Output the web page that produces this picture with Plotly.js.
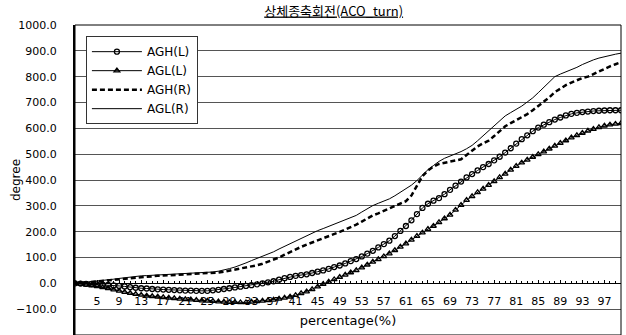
<!DOCTYPE html>
<html>
<head>
<meta charset="utf-8">
<script src="https://cdn.plot.ly/plotly-3.0.1.min.js"></script>
<style>html,body{margin:0;padding:0;background:#fff;}#chart{width:626px;height:335px;}</style>
</head>
<body>
<div id="chart"></div>
<script>
// category axis: percentage 1..100
const percentage = Array.from({length: 100}, (_, k) => k + 1);
const xTickLabels = [5,9,13,17,21,25,29,33,37,41,45,49,53,57,61,65,69,73,77,81,85,89,93,97];

const AGH_L = [0,-1,-2,-3,-4,-5,-6,-8,-10,-12,-15,-17,-19,-20,-22,-23,-24,-25,-26,-27,
  -28,-28,-29,-29,-29,-27,-25,-22,-19,-16,-13,-10,-7,-4,0,4,8,14,20,25,
  29,32,35,40,45,50,56,63,69,77,86,94,104,115,126,139,152,165,183,203,
  222,244,268,292,308,320,330,345,362,378,394,410,423,437,450,462,476,490,506,523,
  541,558,573,589,603,614,624,634,642,650,656,660,663,665,667,668,669,670,670,670];

const AGL_L = [0,-3,-6,-9,-12,-16,-19,-24,-29,-34,-38,-42,-45,-48,-50,-52,-54,-56,-58,-60,
  -62,-63,-65,-67,-68,-69,-71,-72,-73,-73,-74,-74,-72,-70,-68,-66,-64,-60,-56,-52,
  -46,-39,-32,-23,-13,-3,6,15,24,33,42,50,61,72,83,93,104,115,128,141,
  154,168,183,196,210,222,236,251,265,284,303,322,337,352,366,380,395,410,424,439,
  454,467,478,489,499,510,521,532,543,553,564,573,582,590,597,604,610,614,617,619];

const AGH_R = [0,2,4,6,8,10,12,15,18,20,22,24,26,27,28,29,30,31,32,33,
  34,35,36,37,38,40,42,45,49,53,58,62,66,70,76,83,90,100,111,122,
  131,141,150,158,165,173,182,190,199,208,217,227,239,251,263,271,280,288,297,306,
  318,340,380,415,437,452,462,467,470,474,480,497,515,530,542,552,570,590,608,620,
  631,642,655,670,686,703,720,740,755,767,777,787,795,800,810,822,832,840,848,856];

const AGL_R = [0,2,4,6,8,11,13,16,19,22,24,27,29,30,31,32,33,34,35,36,
  37,38,39,40,42,44,47,51,57,63,70,79,88,96,105,113,122,133,143,154,
  165,176,186,195,204,212,220,229,237,246,254,263,276,289,301,310,318,327,339,352,
  365,380,398,420,440,456,472,484,492,500,510,521,534,552,572,591,610,630,648,661,
  673,686,702,718,738,760,782,800,810,818,826,836,847,857,865,872,878,883,887,891];

const seriesNames = ['AGH(L)', 'AGL(L)', 'AGH(R)', 'AGL(R)'];
const chartTitle = '상체종축회전(ACO_turn)';
const xTitle = 'percentage(%)';
const yTitle = 'degree';

const yMin = -200, yMax = 1000;

const traces = [
  {x: percentage, y: AGH_L, name: seriesNames[0], type: 'scatter', mode: 'lines+markers',
   line: {color: '#000', width: 1},
   marker: {symbol: 'circle-open', size: 5, color: '#000', line: {width: 1.3, color: '#000'}}},
  {x: percentage, y: AGL_L, name: seriesNames[1], type: 'scatter', mode: 'lines+markers',
   line: {color: '#000', width: 1},
   marker: {symbol: 'triangle-up-open', size: 5, color: '#000', line: {width: 1.3, color: '#000'}}},
  {x: percentage, y: AGH_R, name: seriesNames[2], type: 'scatter', mode: 'lines',
   line: {color: '#000', width: 2.5, dash: '5px,3px'}},
  {x: percentage, y: AGL_R, name: seriesNames[3], type: 'scatter', mode: 'lines',
   line: {color: '#000', width: 1}}
];

const baseFont = {family: 'DejaVu Sans, Arial, sans-serif', size: 11, color: '#000'};

const layout = {
  width: 626, height: 335,
  margin: {l: 75, r: 5, t: 25, b: 0, pad: 0},
  paper_bgcolor: '#fff', plot_bgcolor: '#fff',
  font: baseFont,
  showlegend: true,
  title: {
    text: chartTitle,
    font: {family: 'Noto Sans CJK KR, DejaVu Sans, sans-serif', size: 13, color: '#000', lineposition: 'under'},
    xref: 'container', x: 0.533, xanchor: 'center',
    yref: 'container', y: 1 - 11 / 335, yanchor: 'middle'
  },
  xaxis: {
    range: [1, 100],
    anchor: 'free',
    position: (0 - yMin) / (yMax - yMin),
    tickmode: 'array', tickvals: xTickLabels, ticktext: xTickLabels.map(String),
    ticks: 'inside', ticklen: 3, tickcolor: '#000', tickwidth: 1,
    minor: {dtick: 1, tick0: 1, ticks: 'inside', ticklen: 2, tickcolor: '#000', showgrid: false},
    ticklabelstandoff: 7,
    showline: true, linecolor: '#000', linewidth: 1,
    showgrid: false, zeroline: false,
    tickfont: {family: 'DejaVu Sans, Arial, sans-serif', size: 11, color: '#000'},
    title: {text: xTitle, font: {family: 'DejaVu Sans, Arial, sans-serif', size: 13, color: '#000'}, standoff: 9},
    fixedrange: true
  },
  yaxis: {
    range: [yMin, yMax],
    dtick: 100, tick0: 0,
    tickformat: '.1f',
    ticks: '', ticklabelstandoff: 14,
    showline: true, linecolor: '#000', linewidth: 2,
    showgrid: true, gridcolor: '#555', gridwidth: 1,
    zeroline: true, zerolinecolor: '#000', zerolinewidth: 1,
    tickfont: {family: 'DejaVu Sans, Arial, sans-serif', size: 11, color: '#000'},
    title: {text: yTitle, font: {family: 'DejaVu Sans, Arial, sans-serif', size: 12, color: '#000'}},
    fixedrange: true
  },
  legend: {
    x: 0.02, y: 0.964, xanchor: 'left', yanchor: 'top',
    bgcolor: '#fff', bordercolor: '#333', borderwidth: 1,
    font: {family: 'DejaVu Sans, Arial, sans-serif', size: 12, color: '#000'},
    tracegroupgap: 0, itemwidth: 50, entrywidth: 100
  },
  shapes: [
    {type: 'rect', xref: 'paper', yref: 'paper', x0: 0, x1: 1, y0: 0, y1: 1,
     line: {color: '#000', width: 1}, fillcolor: 'rgba(0,0,0,0)', layer: 'above'}
  ]
};

Plotly.newPlot('chart', traces, layout, {staticPlot: true, displayModeBar: false});
</script>
</body>
</html>
